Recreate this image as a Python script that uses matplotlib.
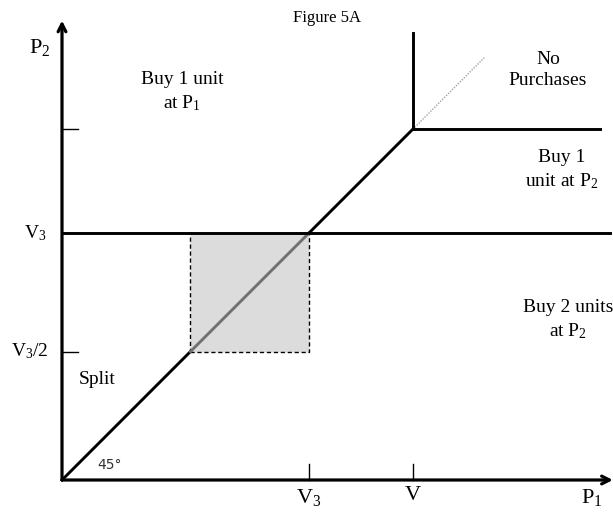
import numpy as np
import matplotlib
matplotlib.use("Agg")
import matplotlib.pyplot as plt
from matplotlib.patches import Rectangle

plt.rcParams['font.family'] = ['Liberation Serif', 'DejaVu Serif']
plt.rcParams['mathtext.fontset'] = 'custom'
plt.rcParams['mathtext.rm'] = 'Liberation Serif'
plt.rcParams['mathtext.it'] = 'Liberation Serif'

# key values on the price axes (V3 = 1 unit)
v3 = 1.0
v_full = 1.42
v3_half = 0.52
x_axis_end = 2.23
y_axis_end = 1.86
v_line_top = 1.81
v_line_right = 2.18
v3_line_right = 2.22
dotted_end = 1.71

# pixel mapping helpers (1 unit = 247 px, origin at px (62, 480))
def px(x):
    return (x - 62) / 247.0

def py(y):
    return (480 - y) / 247.0

fig = plt.figure(figsize=(6.13, 5.14), dpi=100)
ax = fig.add_axes([0, 0, 1, 1])
ax.set_xlim(px(0), px(613))
ax.set_ylim(py(514), py(0))
ax.axis('off')

lw = 2.1
# shaded square
ax.add_patch(Rectangle((v3_half, v3_half), v3 - v3_half, v3 - v3_half,
                       facecolor='#dcdcdc', edgecolor='black', lw=1.0,
                       linestyle=(0, (3, 2)), zorder=1))

# 45 degree line
ax.plot([0, v3_half], [0, v3_half], color='black', lw=lw, zorder=3)
ax.plot([v3_half, v3], [v3_half, v3], color='#707070', lw=lw, zorder=3)
ax.plot([v3, v_full], [v3, v_full], color='black', lw=lw, zorder=3)
ax.plot([v_full, dotted_end], [v_full, dotted_end], color='#a0a0a0', lw=1.0,
        linestyle=(0, (1, 1)), zorder=3)

# boundary lines
ax.plot([0, v3_line_right], [v3, v3], color='black', lw=lw, zorder=3)
ax.plot([v_full, v_full], [v_full, v_line_top], color='black', lw=lw, zorder=3)
ax.plot([v_full, v_line_right], [v_full, v_full], color='black', lw=lw, zorder=3)

# axes with arrows
ax.annotate('', xy=(0, y_axis_end), xytext=(0, 0),
            arrowprops=dict(arrowstyle='->,head_length=0.55,head_width=0.28',
                            lw=2.3, color='black', shrinkA=0, shrinkB=0))
ax.annotate('', xy=(x_axis_end, 0), xytext=(0, 0),
            arrowprops=dict(arrowstyle='->,head_length=0.55,head_width=0.28',
                            lw=2.3, color='black', shrinkA=0, shrinkB=0))

# ticks
tk = 0.065
for yv in [v_full, v3_half]:
    ax.plot([0, tk], [yv, yv], color='black', lw=1.0)
for xv in [v3, v_full]:
    ax.plot([xv, xv], [0, tk], color='black', lw=1.0)

# tick labels
ax.text(v3, py(497), '$\\mathregular{V_3}$', ha='center', va='center', fontsize=16)
ax.text(v_full, py(495), 'V', ha='center', va='center', fontsize=16)
ax.text(px(592), py(497), '$\\mathregular{P_1}$', ha='center', va='center', fontsize=16)
ax.text(px(40), py(47), '$\\mathregular{P_2}$', ha='center', va='center', fontsize=16)
ax.text(px(35), v3, '$\\mathregular{V_3}$', ha='center', va='center', fontsize=14)
ax.text(px(30), v3_half, '$\\mathregular{V_3/2}$', ha='center', va='center', fontsize=14)

# region labels
ax.text(px(327), py(18), 'Figure 5A', ha='center', va='center', fontsize=12)
ax.text(px(182), py(92), 'Buy 1 unit\nat $\\mathregular{P_1}$', ha='center', va='center',
        fontsize=14, linespacing=1.3)
ax.text(px(548), py(70), 'No\nPurchases', ha='center', va='center',
        fontsize=14, linespacing=1.3)
ax.text(px(562), py(170), 'Buy 1\nunit at $\\mathregular{P_2}$', ha='center', va='center',
        fontsize=14, linespacing=1.3)
ax.text(px(568), py(320), 'Buy 2 units\nat $\\mathregular{P_2}$', ha='center', va='center',
        fontsize=14, linespacing=1.3)
ax.text(px(79), py(379), 'Split', ha='left', va='center', fontsize=14)
ax.text(px(97), py(465), '45°', ha='left', va='center', fontsize=10,
        family='DejaVu Sans', color='#333333')

fig.savefig('out.png', dpi=100)
